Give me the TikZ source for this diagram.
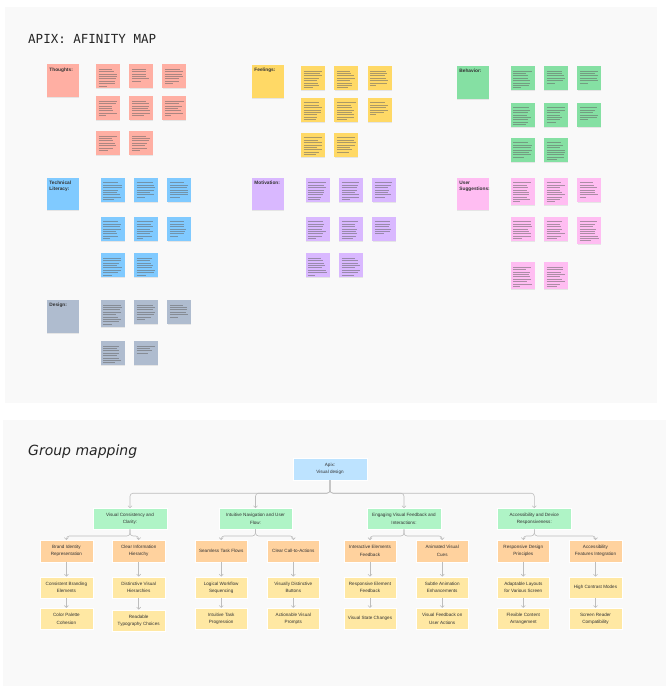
\documentclass[tikz,border=0pt]{standalone}
\usepackage{fontspec}
\setmainfont{Liberation Sans}
\usetikzlibrary{arrows.meta,calc}
\definecolor{panel}{HTML}{F9F9F9}
\definecolor{th}{HTML}{FFAFA3}
\definecolor{fe}{HTML}{FFD966}
\definecolor{be}{HTML}{85E0A3}
\definecolor{te}{HTML}{80CAFF}
\definecolor{mo}{HTML}{D9B8FF}
\definecolor{us}{HTML}{FFBDF2}
\definecolor{de}{HTML}{AFBCCF}
\definecolor{rootc}{HTML}{BDE3FF}
\definecolor{lonec}{HTML}{AFF4C6}
\definecolor{ltwoc}{HTML}{FFD29E}
\definecolor{lthreec}{HTML}{FFE8A3}
\definecolor{connc}{HTML}{BDBDBD}
\newfontfamily\monofam{DejaVu Sans Mono}
\newfontfamily\handfam{DejaVu Sans}
\tikzset{
  txl/.style={line width=0.32pt, black!60, opacity=0.55},
  hdrlabel/.style={inner sep=0pt, align=left, font=\bfseries\fontsize{4.8}{6}\selectfont, text=black!80},
  box/.style={draw=white!60, line width=0.3pt, minimum height=21.5pt, align=center, inner sep=0pt,
    font=\fontsize{4.6}{7.2}\selectfont, text=black!80},
  rootbox/.style={box, fill=rootc, minimum width=74pt, minimum height=21.7pt},
  lone/.style={box, fill=lonec, minimum width=73.4pt, minimum height=21pt},
  ltwo/.style={box, fill=ltwoc, minimum width=52.5pt},
  lthree/.style={box, fill=lthreec, minimum width=52.5pt},
  conn/.style={draw=connc, line width=0.6pt, rounded corners=3pt, -{Straight Barb[length=2pt,width=4pt]}},
}
\newcommand\stk[5]{%
  \fill[black!10] (#1+0.4,#2+#3) rectangle ++(23.6,0.6);
  \fill[#4] (#1,#2) rectangle ++(24,#3);
  \foreach \k in {1,...,#5}{%
    \pgfmathsetmacro\ll{ifthenelse(\k==#5,6+rnd*7,13+rnd*6)}%
    \draw[txl] (#1+2.5,#2+2.6+\k*2.35) -- ++(\ll,0);
  }%
}
\newcommand\hdr[5]{%
  \fill[black!10] (#1+0.4,#2+32.5) rectangle ++(31.9,0.6);
  \fill[#3] (#1,#2) rectangle ++(32.3,32.5);
  \node[hdrlabel, anchor=north west] (#5) at (#1+2.5,#2+3.2) {#4};
}
\begin{document}
\begin{tikzpicture}[x=1pt,y=-1pt]
\useasboundingbox (0,0) rectangle (666,686);
\fill[white] (0,0) rectangle (666,686);
\pgfmathsetseed{7}
% panels
\fill[panel] (5,7) rectangle (657,403);
\fill[panel] (3,420) rectangle (666,686);
% titles
\node[anchor=base west, inner sep=0pt, font=\monofam\fontsize{12.5}{12.5}\selectfont, text=black!85] (title1) at (28,43.3) {APIX: AFINITY MAP};
\node[anchor=base west, inner sep=0pt, font=\handfam\itshape\fontsize{14}{14}\selectfont, text=black!85] (title2) at (28,455) {Group mapping};

% ---- Thoughts
\hdr{46.7}{64.3}{th}{Thoughts:}{hth}
\stk{96}{64.3}{24}{th}{8}\stk{129.3}{64.3}{24}{th}{6}\stk{162.3}{64.3}{24}{th}{7}
\stk{96}{96.3}{24}{th}{7}\stk{129.3}{96.3}{24}{th}{7}\stk{162.3}{96.3}{24}{th}{7}
\stk{96}{131}{24}{th}{7}\stk{129.3}{131}{24}{th}{7}
% ---- Feelings
\hdr{251.7}{65}{fe}{Feelings:}{hfe}
\stk{301}{66}{24}{fe}{8}\stk{334.3}{66}{24}{fe}{8}\stk{367.7}{66}{24}{fe}{7}
\stk{301}{97.7}{24}{fe}{8}\stk{334.3}{97.7}{24}{fe}{8}\stk{367.7}{97.7}{24}{fe}{6}
\stk{301}{132.7}{24}{fe}{8}\stk{334.3}{132.7}{24}{fe}{7}
% ---- Behavior
\hdr{456.7}{66}{be}{Behavior:}{hbe}
\stk{510.7}{66}{24}{be}{8}\stk{544}{66}{24}{be}{6}\stk{577.3}{66}{24}{be}{6}
\stk{510.7}{102.7}{24}{be}{8}\stk{544}{102.7}{24}{be}{7}\stk{577.3}{102.7}{24}{be}{6}
\stk{510.7}{137.7}{24}{be}{7}\stk{544}{137.7}{24}{be}{8}
% ---- Technical Literacy
\hdr{46.7}{177.7}{te}{Technical\\Literacy:}{hte}
\stk{100.7}{177.7}{24}{te}{8}\stk{134}{177.7}{24}{te}{7}\stk{167.3}{177.7}{24}{te}{7}
\stk{100.7}{216.7}{24}{te}{8}\stk{134}{216.7}{24}{te}{8}\stk{167.3}{216.7}{24}{te}{7}
\stk{100.7}{253.3}{24}{te}{8}\stk{134}{253.3}{24}{te}{8}
% ---- Motivation
\hdr{251.7}{177.7}{mo}{Motivation:}{hmo}
\stk{305.7}{177.7}{24}{mo}{8}\stk{339}{177.7}{24}{mo}{8}\stk{372.3}{177.7}{24}{mo}{7}
\stk{305.7}{216.7}{24}{mo}{8}\stk{339}{216.7}{24}{mo}{8}\stk{372.3}{216.7}{24}{mo}{6}
\stk{305.7}{253.3}{24}{mo}{8}\stk{339}{253.3}{24}{mo}{8}
% ---- User Suggestions
\hdr{456.7}{177.7}{us}{User\\Suggestions:}{hus}
\stk{510.7}{177.7}{27}{us}{9}\stk{544}{177.7}{27}{us}{9}\stk{577.3}{177.7}{24}{us}{7}
\stk{510.7}{216.7}{24}{us}{8}\stk{544}{216.7}{24}{us}{8}\stk{577.3}{216.7}{27}{us}{9}
\stk{510.7}{262.3}{27}{us}{9}\stk{544}{262.3}{27}{us}{9}
% ---- Design
\hdr{46.7}{300}{de}{Design:}{hde}
\stk{100.7}{300}{27}{de}{9}\stk{134}{300}{24}{de}{7}\stk{167.3}{300}{24}{de}{6}
\stk{100.7}{341}{24}{de}{8}\stk{134}{341}{24}{de}{4}

% ================= Group mapping tree
\node[rootbox] (root) at (330,469.2) {Apix:\\Visual design};
\node[lone] (c1) at (130,518.8) {Visual Consistency and\\Clarity:};
\node[lone] (c2) at (255.5,518.8) {Intuitive Navigation and User\\Flow:};
\node[lone] (c3) at (404,518.8) {Engaging Visual Feedback and\\Interactions:};
\node[lone] (c4) at (534.3,518.8) {Accessibility and Device\\Responsiveness:};

\node[ltwo] (b1) at (66.4,550.9) {Brand Identity\\Representation};
\node[ltwo] (b2) at (138.7,550.9) {Clear Information\\Hierarchy};
\node[ltwo] (b3) at (221.2,550.9) {Seamless Task Flows};
\node[ltwo] (b4) at (293.3,550.9) {Clear Call-to-Actions};
\node[ltwo] (b5) at (370,550.9) {Interactive Elements\\Feedback};
\node[ltwo] (b6) at (442.2,550.9) {Animated Visual\\Cues};
\node[ltwo] (b7) at (523.3,550.9) {Responsive Design\\Principles};
\node[ltwo] (b8) at (595.5,550.9) {Accessibility\\Features Integration};

\node[lthree] (d1) at (66.4,587.5) {Consistent Branding\\Elements};
\node[lthree] (d2) at (138.7,587.5) {Distinctive Visual\\Hierarchies};
\node[lthree] (d3) at (221.2,587.5) {Logical Workflow\\Sequencing};
\node[lthree] (d4) at (293.3,587.5) {Visually Distinctive\\Buttons};
\node[lthree] (d5) at (370,587.5) {Responsive Element\\Feedback};
\node[lthree] (d6) at (442.2,587.5) {Subtle Animation\\Enhancements};
\node[lthree] (d7) at (523.3,587.5) {Adaptable Layouts\\for Various Screen};
\node[lthree] (d8) at (595.5,587.5) {High Contrast Modes};

\node[lthree] (e1) at (66.4,618.8) {Color Palette\\Cohesion};
\node[lthree] (e2) at (138.7,620.5) {Readable\\Typography Choices};
\node[lthree] (e3) at (221.2,618.8) {Intuitive Task\\Progression};
\node[lthree] (e4) at (293.3,618.8) {Actionable Visual\\Prompts};
\node[lthree] (e5) at (370,618.8) {Visual State Changes};
\node[lthree] (e6) at (442.2,618.8) {Visual Feedback on\\User Actions};
\node[lthree] (e7) at (523.3,618.8) {Flexible Content\\Arrangement};
\node[lthree] (e8) at (595.5,618.8) {Screen Reader\\Compatibility};

% root connectors
\coordinate (j0) at ($(root.south)+(0,13)$);
\foreach \c in {c1,c2,c3,c4}{\draw[conn] (root.south) -- (j0) -| (\c.north);}
% level1 -> level2
\coordinate (j1) at ($(c1.south)+(0,6.5)$);
\coordinate (j2) at ($(c2.south)+(0,6.5)$);
\coordinate (j3) at ($(c3.south)+(0,6.5)$);
\coordinate (j4) at ($(c4.south)+(0,6.5)$);
\draw[conn] (c1.south) -- (j1) -| (b1.north);
\draw[conn] (c1.south) -- (j1) -| (b2.north);
\draw[conn] (c2.south) -- (j2) -| (b3.north);
\draw[conn] (c2.south) -- (j2) -| (b4.north);
\draw[conn] (c3.south) -- (j3) -| (b5.north);
\draw[conn] (c3.south) -- (j3) -| (b6.north);
\draw[conn] (c4.south) -- (j4) -| (b7.north);
\draw[conn] (c4.south) -- (j4) -| (b8.north);
% level2 -> level3 -> level4
\foreach \i in {1,...,8}{
  \draw[conn] (b\i.south) -- (d\i.north);
  \draw[conn] (d\i.south) -- (e\i.north);
}
\end{tikzpicture}
\end{document}
